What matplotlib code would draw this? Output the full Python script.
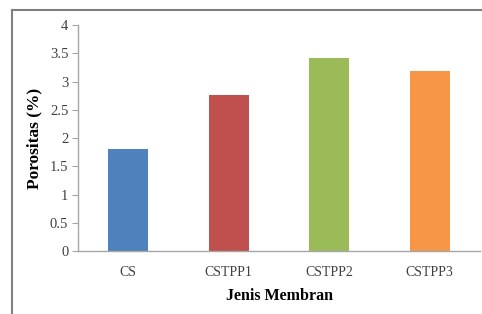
import matplotlib
matplotlib.use("Agg")
import matplotlib.pyplot as plt
from matplotlib.lines import Line2D

categories = ["CS", "CSTPP1", "CSTPP2", "CSTPP3"]
porositas = [1.81, 2.76, 3.42, 3.19]
colors = ["#4F81BD", "#C0504D", "#9BBB59", "#F79646"]
yticks = [0, 0.5, 1, 1.5, 2, 2.5, 3, 3.5, 4]
ytick_labels = ["0", "0.5", "1", "1.5", "2", "2.5", "3", "3.5", "4"]

plt.rcParams['font.family'] = ['Liberation Serif', 'DejaVu Serif']

W, H = 482, 314
fig = plt.figure(figsize=(W / 100, H / 100), dpi=100)
ax = fig.add_axes([78 / W, 63 / H, 402 / W, 226 / H])

ax.bar(range(len(categories)), porositas, width=0.4, color=colors)
ax.set_xlim(-0.5, 3.5)
ax.set_ylim(0, 4)
ax.set_yticks(yticks)
ax.set_yticklabels(ytick_labels)
ax.set_xticks(range(len(categories)))
ax.set_xticklabels(categories)

for s in ["top", "right"]:
    ax.spines[s].set_visible(False)
for s in ["left", "bottom"]:
    ax.spines[s].set_color("#a6a6a6")
    ax.spines[s].set_linewidth(1.0)
ax.tick_params(axis="y", length=4, color="#a6a6a6", labelsize=10.5, labelcolor="#404040", pad=3)
ax.tick_params(axis="x", length=0, labelsize=10, labelcolor="#404040", pad=11)

ax.set_ylabel("Porositas (%)", fontsize=12.5, fontweight="bold", labelpad=5)
ax.set_xlabel("Jenis Membran", fontsize=11.5, fontweight="bold", labelpad=6)

# outer frame (top and left edges visible)
fig.add_artist(Line2D([12 / W, 1], [1 - 10 / H, 1 - 10 / H], transform=fig.transFigure, color="#808080", lw=1.5))
fig.add_artist(Line2D([12 / W, 12 / W], [0, 1 - 10 / H], transform=fig.transFigure, color="#808080", lw=1.5))

fig.savefig("out.png", dpi=100)
